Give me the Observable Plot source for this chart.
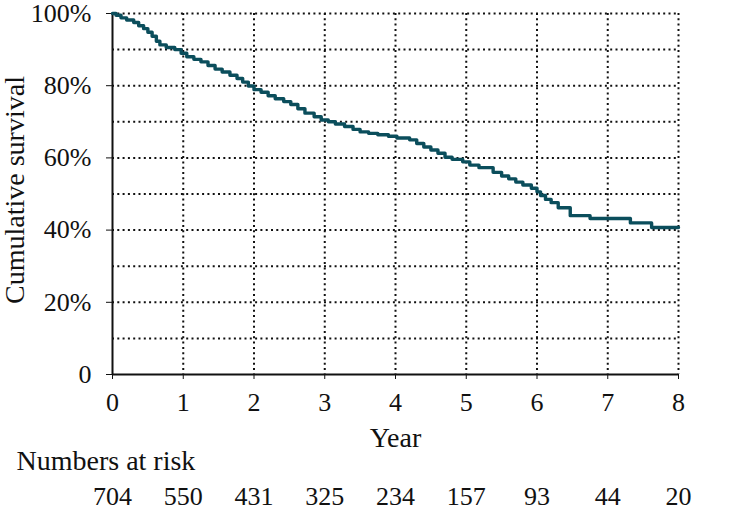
<!DOCTYPE html>
<html>
<head>
<meta charset="utf-8">
<script src="https://cdn.jsdelivr.net/npm/d3@7"></script>
<script src="https://cdn.jsdelivr.net/npm/@observablehq/plot@0.6"></script>
<style>
  html, body { margin: 0; padding: 0; background: #fff; }
  #chart { width: 756px; height: 512px; }
</style>
</head>
<body>
<div id="chart"></div>
<script>
// Kaplan–Meier step points (year, cumulative survival %)
const years = [0, 0.05, 0.12, 0.2, 0.3, 0.37, 0.44, 0.5, 0.56, 0.62, 0.67, 0.76, 0.88, 0.97,
  1.05, 1.15, 1.25, 1.35, 1.45, 1.55, 1.66, 1.76, 1.84, 1.92,
  2.0, 2.1, 2.2, 2.3, 2.42, 2.52, 2.62, 2.72, 2.85, 2.95,
  3.05, 3.15, 3.28, 3.4, 3.5, 3.62, 3.75, 3.9,
  4.02, 4.2, 4.3, 4.4, 4.5, 4.6, 4.7, 4.8, 4.95,
  5.05, 5.18, 5.38, 5.5, 5.6, 5.7, 5.8, 5.92,
  6.0, 6.05, 6.12, 6.2, 6.3, 6.47, 6.75, 7.32, 7.62, 8.0];
const survival = [100, 99.5, 98.8, 98.2, 97.5, 96.6, 95.8, 94.8, 93.7, 92.3, 91.3, 90.6, 90.0, 89.0,
  88.0, 87.3, 86.6, 85.6, 84.6, 83.8, 82.9, 82.0, 81.0, 79.9,
  78.9, 78.2, 77.2, 76.4, 75.6, 74.8, 73.6, 72.4, 71.4, 70.5,
  70.0, 69.4, 68.7, 67.9, 67.2, 66.8, 66.4, 66.0,
  65.5, 65.0, 64.0, 63.0, 62.2, 61.3, 60.2, 59.6, 58.9,
  58.0, 57.3, 56.0, 55.0, 54.2, 53.3, 52.5, 51.6,
  50.6, 49.6, 48.5, 47.6, 46.2, 44.0, 43.2, 42.0, 40.7, 40.7];

const xTicks = [0, 1, 2, 3, 4, 5, 6, 7, 8];
const yTicks = [0, 20, 40, 60, 80, 100];
const yGrid = [10, 20, 30, 40, 50, 60, 70, 80, 90, 100];
const xGrid = [1, 2, 3, 4, 5, 6, 7, 8];
const atRisk = [704, 550, 431, 325, 234, 157, 93, 44, 20];

const xLabel = "Year";
const yLabel = "Cumulative survival";
const riskTitle = "Numbers at risk";

const curve = years.map((t, i) => ({year: t, surv: survival[i]}));
const riskRows = xTicks.map((t, i) => ({year: t, n: atRisk[i]}));

const wordStyle = {fontSize: 28, fill: "#111", style: "letter-spacing:1px"};

const chart = Plot.plot({
  width: 756,
  height: 512,
  marginLeft: 112,
  marginRight: 78,
  marginTop: 13,
  marginBottom: 138,
  style: {fontFamily: "'Liberation Serif', 'DejaVu Serif', serif", fontSize: "26px", color: "#111", background: "#fff", overflow: "visible"},
  x: {domain: [0, 8]},
  y: {domain: [0, 100]},
  marks: [
    Plot.gridY(yGrid, {stroke: "#111", strokeOpacity: 1, strokeWidth: 2, strokeDasharray: "2,3.3"}),
    Plot.gridX(xGrid, {stroke: "#111", strokeOpacity: 1, strokeWidth: 2, strokeDasharray: "2,3.3"}),
    Plot.axisY(yTicks, {tickSize: 6, tickPadding: 15, tickFormat: d => d === 0 ? "0" : d + "%", label: null, stroke: "#111", fontSize: 26}),
    Plot.axisX(xTicks, {tickSize: 5, tickPadding: 13, tickFormat: d => String(d), label: null, stroke: "#111", fontSize: 26}),
    Plot.ruleX([0], {stroke: "#111", strokeWidth: 2}),
    Plot.ruleY([0], {stroke: "#111", strokeWidth: 2}),
    Plot.line(curve, {x: "year", y: "surv", curve: "step-after", stroke: "#0b4e5c", strokeWidth: 3.4}),
    Plot.text([yLabel], {frameAnchor: "left", textAnchor: "middle", lineAnchor: "middle", rotate: -90, dx: -97, dy: -4, ...wordStyle}),
    Plot.text([xLabel], {frameAnchor: "bottom", dy: 72, ...wordStyle}),
    Plot.text([riskTitle], {frameAnchor: "bottom-left", textAnchor: "start", dx: -96, dy: 95, ...wordStyle}),
    Plot.text(riskRows, {x: "year", text: d => String(d.n), frameAnchor: "bottom", dy: 130, fontSize: 26, fill: "#111"})
  ]
});
document.getElementById("chart").appendChild(chart);
</script>
</body>
</html>
